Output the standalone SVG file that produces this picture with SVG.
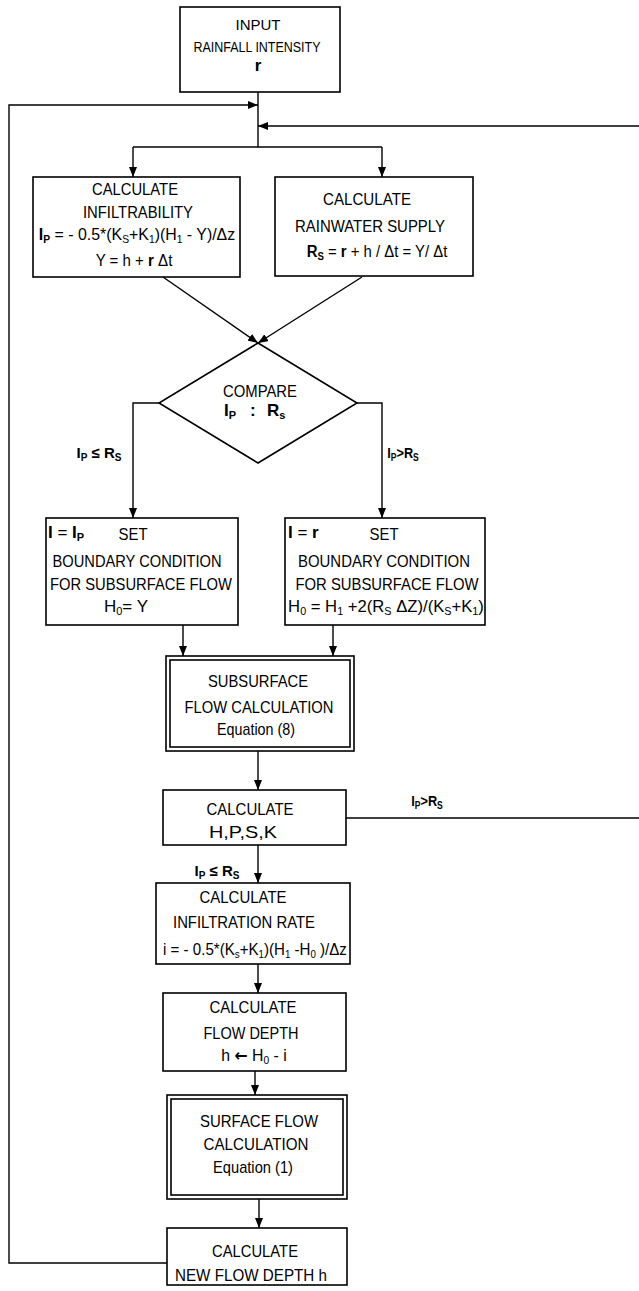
<svg xmlns="http://www.w3.org/2000/svg" width="639" height="1291" viewBox="0 0 639 1291">
<style>
.box{fill:#fff;stroke:#000;stroke-width:1.6}
.ln{fill:none;stroke:#000;stroke-width:1.4}
text{font-family:"Liberation Sans",Arial,sans-serif;font-size:17px;fill:#000;text-anchor:middle}
.sm{font-size:14px}
.b{font-weight:bold}
.s{font-size:11px}
.lb{font-size:15px;font-weight:bold}
.ls{font-size:10px}
.st{text-anchor:start}
.arr{font-family:"DejaVu Sans",sans-serif;font-weight:bold}
</style>
<defs>
<marker id="ah" markerUnits="userSpaceOnUse" markerWidth="10" markerHeight="8" refX="10" refY="4" orient="auto">
<path d="M0,0 L10,4 L0,8 z" fill="#000"/>
</marker>
</defs>
<rect width="639" height="1291" fill="#fff"/>
<g id="connectors">
<path class="ln" d="M258,92 V147"/>
<path class="ln" d="M133,147 H382"/>
<path class="ln" d="M133,147 V177" marker-end="url(#ah)"/>
<path class="ln" d="M382,147 V177" marker-end="url(#ah)"/>
<path class="ln" d="M167,1263 H9 V105 H258" marker-end="url(#ah)"/>
<path class="ln" d="M346,818 H642 V126 H258" marker-end="url(#ah)"/>
<path class="ln" d="M163,277 L258,343" marker-end="url(#ah)"/>
<path class="ln" d="M362,277 L258,343" marker-end="url(#ah)"/>
<path class="ln" d="M159,403 H133 V518" marker-end="url(#ah)"/>
<path class="ln" d="M357,403 H382 V518" marker-end="url(#ah)"/>
<path class="ln" d="M183,625 V656" marker-end="url(#ah)"/>
<path class="ln" d="M333,625 V656" marker-end="url(#ah)"/>
<path class="ln" d="M258,751 V790" marker-end="url(#ah)"/>
<path class="ln" d="M258,845 V883" marker-end="url(#ah)"/>
<path class="ln" d="M258,964 V993" marker-end="url(#ah)"/>
<path class="ln" d="M255,1071 V1095" marker-end="url(#ah)"/>
<path class="ln" d="M259,1199 V1228" marker-end="url(#ah)"/>
<text class="lb" x="99" y="458">I<tspan class="ls" dy="3">P</tspan><tspan dy="-3"> ≤ R</tspan><tspan class="ls" dy="3">S</tspan></text>
<text class="lb" transform="translate(403,458) scale(0.85,1)" x="0" y="0">I<tspan class="ls" dy="3">P</tspan><tspan dy="-3">&gt;R</tspan><tspan class="ls" dy="3">S</tspan></text>
<text class="lb" transform="translate(427,806) scale(0.85,1)" x="0" y="0">I<tspan class="ls" dy="3">P</tspan><tspan dy="-3">&gt;R</tspan><tspan class="ls" dy="3">S</tspan></text>
<text class="lb" x="217" y="876">I<tspan class="ls" dy="3">P</tspan><tspan dy="-3"> ≤ R</tspan><tspan class="ls" dy="3">S</tspan></text>
</g>
<g id="input">
<rect class="box" x="180" y="7" width="160" height="85"/>
<text class="sm" x="258" y="30" textLength="45" lengthAdjust="spacingAndGlyphs">INPUT</text>
<text class="sm" x="257" y="52" textLength="127" lengthAdjust="spacingAndGlyphs">RAINFALL INTENSITY</text>
<text class="b" x="258" y="71">r</text>
</g>
<g id="infiltrability">
<rect class="box" x="33" y="177" width="207" height="100"/>
<text x="135" y="195" textLength="86" lengthAdjust="spacingAndGlyphs">CALCULATE</text>
<text x="138" y="218" textLength="110" lengthAdjust="spacingAndGlyphs">INFILTRABILITY</text>
<text transform="translate(137,240) scale(0.936,1)" x="0" y="0"><tspan class="b">I</tspan><tspan class="s b" dy="3">P</tspan><tspan dy="-3"> = - 0.5*(K</tspan><tspan class="s" dy="3">S</tspan><tspan dy="-3">+K</tspan><tspan class="s" dy="3">1</tspan><tspan dy="-3">)(H</tspan><tspan class="s" dy="3">1</tspan><tspan dy="-3"> - Y)/Δz</tspan></text>
<text transform="translate(134,266) scale(0.885,1)" x="0" y="0">Y = h + <tspan class="b">r</tspan> Δt</text>
</g>
<g id="rainwater">
<rect class="box" x="275" y="177" width="198" height="99"/>
<text x="367" y="205" textLength="88" lengthAdjust="spacingAndGlyphs">CALCULATE</text>
<text x="370" y="232" textLength="150" lengthAdjust="spacingAndGlyphs">RAINWATER SUPPLY</text>
<text transform="translate(377,257) scale(0.876,1)" x="0" y="0"><tspan class="b">R</tspan><tspan class="s b" dy="3">S</tspan><tspan dy="-3"> = </tspan><tspan class="b">r</tspan> + h / Δt = Y/ Δt</text>
</g>
<g id="compare">
<path class="box" d="M258,343 L357,403 L258,463 L159,403 z"/>
<text x="260" y="397" textLength="74" lengthAdjust="spacingAndGlyphs">COMPARE</text>
<text class="b st" x="224" y="416">I<tspan class="s" dy="3">P</tspan><tspan x="250" dy="-3">:</tspan><tspan x="267">R</tspan><tspan class="s" dy="3">s</tspan></text>
</g>
<g id="boundary-left">
<rect class="box" x="46" y="518" width="192" height="107"/>
<text class="st" x="48" y="538"><tspan class="b">I</tspan> = <tspan class="b">I</tspan><tspan class="s b" dy="3">P</tspan></text>
<text x="133" y="540" textLength="29" lengthAdjust="spacingAndGlyphs">SET</text>
<text x="137" y="567" textLength="169" lengthAdjust="spacingAndGlyphs">BOUNDARY CONDITION</text>
<text x="141" y="590" textLength="182" lengthAdjust="spacingAndGlyphs">FOR SUBSURFACE FLOW</text>
<text x="126" y="612">H<tspan class="s" dy="3">0</tspan><tspan dy="-3">= Y</tspan></text>
</g>
<g id="boundary-right">
<rect class="box" x="285" y="518" width="200" height="107"/>
<text class="st" x="288" y="538"><tspan class="b">I</tspan> = <tspan class="b">r</tspan></text>
<text x="384" y="540" textLength="29" lengthAdjust="spacingAndGlyphs">SET</text>
<text x="384" y="567" textLength="172" lengthAdjust="spacingAndGlyphs">BOUNDARY CONDITION</text>
<text x="387" y="590" textLength="183" lengthAdjust="spacingAndGlyphs">FOR SUBSURFACE FLOW</text>
<text transform="translate(386,612) scale(0.98,1)" x="0" y="0">H<tspan class="s" dy="3">0</tspan><tspan dy="-3"> = H</tspan><tspan class="s" dy="3">1</tspan><tspan dy="-3"> +2(R</tspan><tspan class="s" dy="3">S</tspan><tspan dy="-3"> ΔZ)/(K</tspan><tspan class="s" dy="3">S</tspan><tspan dy="-3">+K</tspan><tspan class="s" dy="3">1</tspan><tspan dy="-3">)</tspan></text>
</g>
<g id="subsurface">
<rect class="box" x="166" y="656" width="188" height="95"/>
<rect class="box" x="170" y="660" width="180" height="87"/>
<text x="258" y="687" textLength="100" lengthAdjust="spacingAndGlyphs">SUBSURFACE</text>
<text x="259" y="713" textLength="149" lengthAdjust="spacingAndGlyphs">FLOW CALCULATION</text>
<text x="256" y="735" textLength="78" lengthAdjust="spacingAndGlyphs">Equation (8)</text>
</g>
<g id="hpsk">
<rect class="box" x="163" y="790" width="183" height="55"/>
<text x="250" y="815" textLength="87" lengthAdjust="spacingAndGlyphs">CALCULATE</text>
<text x="243" y="838" textLength="68" lengthAdjust="spacingAndGlyphs">H,P,S,K</text>
</g>
<g id="infiltration-rate">
<rect class="box" x="156" y="883" width="194" height="81"/>
<text x="243" y="903" textLength="87" lengthAdjust="spacingAndGlyphs">CALCULATE</text>
<text x="244" y="928" textLength="142" lengthAdjust="spacingAndGlyphs">INFILTRATION RATE</text>
<text transform="translate(255,955) scale(0.888,1)" x="0" y="0">i = - 0.5*(K<tspan class="s" dy="3">s</tspan><tspan dy="-3">+K</tspan><tspan class="s" dy="3">1</tspan><tspan dy="-3">)(H</tspan><tspan class="s" dy="3">1</tspan><tspan dy="-3"> -H</tspan><tspan class="s" dy="3">0</tspan><tspan dy="-3"> )/Δz</tspan></text>
</g>
<g id="flow-depth">
<rect class="box" x="163" y="993" width="183" height="78"/>
<text x="253" y="1013" textLength="87" lengthAdjust="spacingAndGlyphs">CALCULATE</text>
<text x="251" y="1039" textLength="95" lengthAdjust="spacingAndGlyphs">FLOW DEPTH</text>
<text transform="translate(254,1061) scale(0.93,1)" x="0" y="0">h <tspan class="arr">←</tspan> H<tspan class="s" dy="3">0</tspan><tspan dy="-3"> - i</tspan></text>
</g>
<g id="surface">
<rect class="box" x="167" y="1095" width="180" height="104"/>
<rect class="box" x="171" y="1099" width="172" height="96"/>
<text x="259" y="1127" textLength="118" lengthAdjust="spacingAndGlyphs">SURFACE FLOW</text>
<text x="256" y="1150" textLength="105" lengthAdjust="spacingAndGlyphs">CALCULATION</text>
<text x="253" y="1173" textLength="80" lengthAdjust="spacingAndGlyphs">Equation (1)</text>
</g>
<g id="new-depth">
<rect class="box" x="167" y="1228" width="180" height="57"/>
<text x="255" y="1257" textLength="86" lengthAdjust="spacingAndGlyphs">CALCULATE</text>
<text x="251" y="1281" textLength="152" lengthAdjust="spacingAndGlyphs">NEW FLOW DEPTH  h</text>
</g>
</svg>
